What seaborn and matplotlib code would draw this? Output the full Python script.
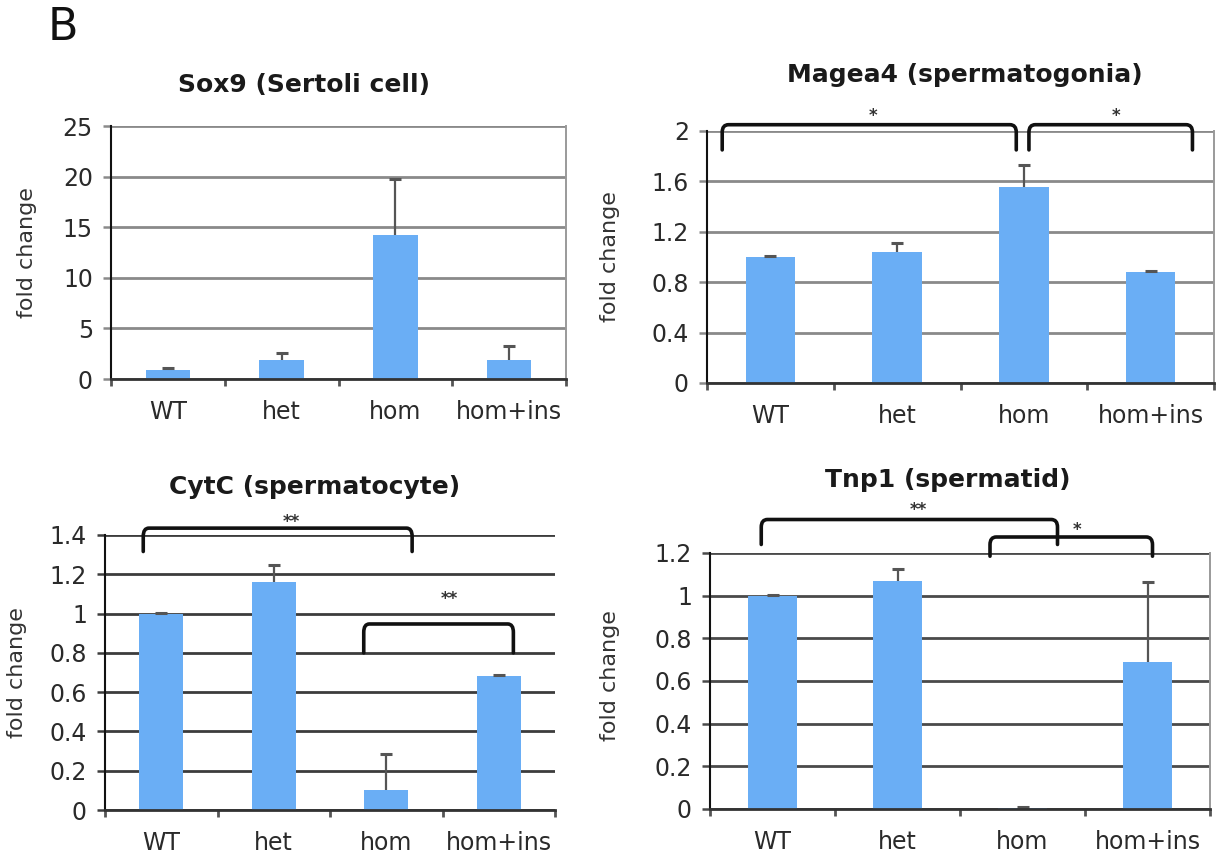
import numpy as np
import pandas as pd
import seaborn as sns
import matplotlib
matplotlib.use("Agg")
import matplotlib.pyplot as plt
from matplotlib.path import Path
from matplotlib.patches import PathPatch

# ---------------- data ----------------
groups = ["WT", "het", "hom", "hom+ins"]

sox9_mean = [0.9, 1.9, 14.25, 1.9]
sox9_err = [0.18, 0.65, 5.55, 1.37]

magea4_mean = [1.0, 1.04, 1.557, 0.88]
magea4_err = [0.01, 0.07, 0.17, 0.01]

cytc_mean = [1.0, 1.163, 0.10, 0.68]
cytc_err = [0.005, 0.085, 0.185, 0.005]

tnp1_mean = [1.0, 1.067, 0.005, 0.69]
tnp1_err = [0.003, 0.058, 0.005, 0.373]

sox9_ticks = [0, 5, 10, 15, 20, 25]
sox9_ticklabels = ["0", "5", "10", "15", "20", "25"]
magea4_ticks = [0, 0.4, 0.8, 1.2, 1.6, 2.0]
magea4_ticklabels = ["0", "0.4", "0.8", "1.2", "1.6", "2"]
cytc_ticks = [0, 0.2, 0.4, 0.6, 0.8, 1.0, 1.2, 1.4]
cytc_ticklabels = ["0", "0.2", "0.4", "0.6", "0.8", "1", "1.2", "1.4"]
tnp1_ticks = [0, 0.2, 0.4, 0.6, 0.8, 1.0, 1.2]
tnp1_ticklabels = ["0", "0.2", "0.4", "0.6", "0.8", "1", "1.2"]

titles = ["Sox9 (Sertoli cell)", "Magea4 (spermatogonia)",
          "CytC (spermatocyte)", "Tnp1 (spermatid)"]

# significance brackets: (x_start, x_end, y_ends, y_top, label, label_x, label_y)
magea4_brackets = [(-0.38, 1.94, 1.85, 2.05, "*", 0.81, 2.12),
                   (2.04, 3.33, 1.85, 2.05, "*", 2.73, 2.12)]
cytc_brackets = [(-0.16, 2.23, 1.316, 1.435, "**", 1.16, 1.465),
                 (1.80, 3.13, 0.80, 0.947, "**", 2.56, 1.075)]
tnp1_brackets = [(-0.09, 2.28, 1.24, 1.357, "**", 1.17, 1.40),
                 (1.74, 3.04, 1.185, 1.275, "*", 2.44, 1.31)]

# ---------------- style ----------------
sns.set_style("white")
plt.rcParams["font.family"] = ["DejaVu Sans"]

BAR = "#6aaef5"
TXT = "#2a2a2a"

W, H = 1225, 856
fig = plt.figure(figsize=(W / 100, H / 100), dpi=100)


def px_axes(left, top, right, bottom):
    return fig.add_axes([left / W, 1 - bottom / H, (right - left) / W, (bottom - top) / H])


def draw_panel(ax, means, errs, ticks, ticklabels, grid_color, right_spine, brackets, ymax):
    df = pd.DataFrame({"group": groups, "value": means})
    sns.barplot(data=df, x="group", y="value", color=BAR, saturation=1,
                width=0.39, errorbar=None, ax=ax, zorder=3, linewidth=0,
                edgecolor=BAR)
    x = np.arange(len(groups))
    m = np.asarray(means)
    e = np.asarray(errs)
    ax.errorbar(x, m, yerr=[np.zeros_like(e), e], fmt="none", ecolor="#555555",
                elinewidth=1.6, capsize=0, zorder=4)
    ax.plot(x, m + e, ls="none", marker="_", ms=8, mew=2.2, color="#555555", zorder=4)

    ax.set_xlim(-0.5, 3.5)
    ax.set_ylim(0, ymax)
    ax.set_yticks(ticks)
    ax.set_yticklabels(ticklabels)
    ax.set_xlabel("")
    ax.set_ylabel("")
    ax.set_axisbelow(True)
    ax.yaxis.grid(True, color=grid_color, lw=2.0, zorder=0)
    ax.xaxis.grid(False)

    ax.tick_params(axis="y", direction="out", length=6, width=1.8, color=grid_color,
                   labelsize=17, labelcolor=TXT, pad=7, left=True)
    ax.tick_params(axis="x", which="major", length=0, labelsize=17, labelcolor=TXT, pad=15)
    ax.set_xticks([-0.5, 0.5, 1.5, 2.5, 3.5], minor=True)
    ax.tick_params(axis="x", which="minor", direction="out", length=5, width=2,
                   color="#555555", bottom=True)

    ax.spines["left"].set_color("#111111")
    ax.spines["left"].set_linewidth(1.5)
    ax.spines["bottom"].set_color("#333333")
    ax.spines["bottom"].set_linewidth(2.0)
    ax.spines["bottom"].set_zorder(5)
    ax.spines["top"].set_visible(False)
    if right_spine:
        ax.spines["right"].set_color("#9a9a9a")
        ax.spines["right"].set_linewidth(1.4)
    else:
        ax.spines["right"].set_visible(False)

    rx = 0.05
    ry = 0.03 * ymax
    for (x0, x1, yb, yt, lab, lx, ly) in brackets:
        verts = [(x0, yb), (x0, yt - ry), (x0, yt), (x0 + rx, yt),
                 (x1 - rx, yt), (x1, yt), (x1, yt - ry), (x1, yb)]
        codes = [Path.MOVETO, Path.LINETO, Path.CURVE3, Path.CURVE3,
                 Path.LINETO, Path.CURVE3, Path.CURVE3, Path.LINETO]
        patch = PathPatch(Path(verts, codes), fill=False, lw=2.6, edgecolor="#111111",
                          capstyle="round", joinstyle="round", clip_on=False, zorder=6)
        ax.add_patch(patch)
        ax.text(lx, ly, lab, ha="center", va="center", fontsize=12, fontweight="bold",
                color="#333333", clip_on=False, zorder=6)


ax1 = px_axes(111, 126, 566, 379)
draw_panel(ax1, sox9_mean, sox9_err, sox9_ticks, sox9_ticklabels, "#8a8a8a", True, [], 25)
ax2 = px_axes(707, 131, 1214, 383)
draw_panel(ax2, magea4_mean, magea4_err, magea4_ticks, magea4_ticklabels, "#8a8a8a", True,
           magea4_brackets, 2.0)
ax3 = px_axes(105, 535, 555, 810)
draw_panel(ax3, cytc_mean, cytc_err, cytc_ticks, cytc_ticklabels, "#3c3c3c", False,
           cytc_brackets, 1.4)
ax4 = px_axes(710, 553, 1210, 809)
draw_panel(ax4, tnp1_mean, tnp1_err, tnp1_ticks, tnp1_ticklabels, "#4a4a4a", True,
           tnp1_brackets, 1.2)

# titles
title_pos = [(304, 85), (965, 75), (315, 487), (948, 480)]
for t, (tx, ty) in zip(titles, title_pos):
    fig.text(tx / W, 1 - ty / H, t, ha="center", va="center", fontsize=18,
             fontweight="bold", color="#1a1a1a")

# y labels
ylab_pos = [(27, 253), (610, 257), (17, 673), (610, 676)]
for (lx, ly) in ylab_pos:
    fig.text(lx / W, 1 - ly / H, "fold change", rotation=90, ha="center", va="center",
             fontsize=16, color="#333333")

# panel letter
fig.text(48 / W, 1 - 27 / H, "B", ha="left", va="center", fontsize=32, color="#111111")

fig.savefig("out.png", dpi=100)
